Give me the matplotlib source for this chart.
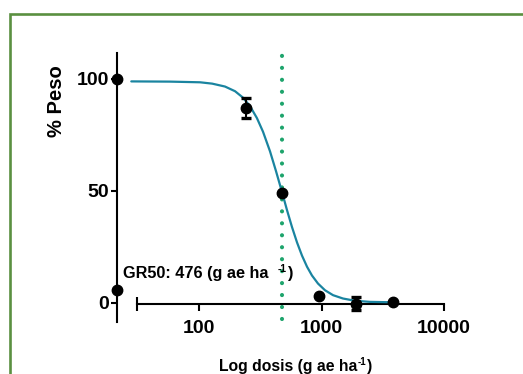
import numpy as np
import matplotlib
matplotlib.use("Agg")
import matplotlib.pyplot as plt
from matplotlib.patches import Rectangle
from matplotlib.transforms import blended_transform_factory

plt.rcParams['font.family'] = ['Liberation Sans', 'DejaVu Sans']
plt.rcParams['font.weight'] = 'bold'

# ---- data ----
control_pct = [100.0, 5.5]                 # untreated (dose 0) points on the y axis
dose = [240, 480, 960, 1920, 3840]         # g ae ha-1
pct = [87.0, 49.0, 3.1, -0.5, 0.3]         # % peso
pct_err = [4.5, 0.0, 0.0, 2.9, 0.0]

curve_dose = [28, 58, 102, 128, 163, 197, 229, 261, 297, 333, 380, 425, 476,
              523, 574, 631, 693, 762, 836, 936, 1068, 1242, 1498, 1877, 2488, 3908]
curve_pct = [98.9, 98.8, 98.5, 97.9, 96.6, 94.5, 91.6, 87.8, 82.5, 76.4, 67.6,
             58.8, 49.4, 41.3, 33.8, 26.9, 21.0, 16.0, 12.1, 8.5, 5.5, 3.3,
             1.8, 0.8, 0.3, 0.1]

gr50 = 476
x_ticks = [100, 1000, 10000]
x_tick_labels = ["100", "1000", "10000"]
y_ticks = [0, 50, 100]
y_tick_labels = ["0", "50", "100"]
x_axis_start = 31
x_axis_end = 10000

W, H = 523, 374
fig = plt.figure(figsize=(W / 100, H / 100), dpi=100)

# green frame
fig.patches.append(Rectangle((9.7 / W, -0.1), 1.2, 1 - 13.8 / H + 0.1,
                             transform=fig.transFigure, fill=False,
                             edgecolor='#5a9040', linewidth=1.9))

ax = fig.add_axes([117 / W, 52 / H, 338 / W, 269 / H])
ax.set_xscale('log')
ax.set_xlim(21.4, 12300)
ax.set_ylim(-8.7, 111.6)

teal = '#1a84a0'
green = '#1ea46c'

# fitted curve
ax.plot(curve_dose, curve_pct, color=teal, lw=1.6, solid_joinstyle='round',
        solid_capstyle='round', zorder=3)

# GR50 dotted line
ax.axvline(gr50, ymin=0.01, ymax=0.997, color=green, lw=3.0,
           linestyle=(0, (0.01, 2.86)), dash_capstyle='round', zorder=2)

# data points
ax.errorbar(dose, pct, yerr=pct_err, fmt='o', color='black', ms=7.5,
            elinewidth=1.5, capsize=3.5, capthick=2.4, zorder=4, clip_on=False)

# control points on the y axis
trans = blended_transform_factory(ax.transAxes, ax.transData)
ax.plot([0] * len(control_pct), control_pct, 'o', color='black', ms=7.5,
        transform=trans, clip_on=False, zorder=5)

# spines
for s in ['top', 'right']:
    ax.spines[s].set_visible(False)
ax.spines['left'].set_linewidth(1.5)
ax.spines['bottom'].set_linewidth(1.5)
ax.spines['bottom'].set_position(('data', -0.8))
ax.spines['bottom'].set_bounds(x_axis_start, x_axis_end)

ax.set_yticks(y_ticks)
ax.set_yticklabels(y_tick_labels)
ax.set_xticks(x_ticks)
ax.set_xticklabels(x_tick_labels)
ax.set_xticks([x_axis_start, x_axis_end], minor=True)
ax.xaxis.set_minor_formatter(plt.NullFormatter())

ax.tick_params(axis='y', direction='out', length=4, width=1.5, pad=2,
               labelsize=14)
ax.tick_params(axis='x', which='major', direction='out', length=5, width=1.5,
               pad=6.5, labelsize=14)
ax.tick_params(axis='x', which='minor', direction='inout', length=10,
               width=1.5)
for lab in ax.get_xticklabels() + ax.get_yticklabels():
    lab.set_fontweight('bold')

# axis labels
fig.text(57 / W, 1 - 101 / H, "% Peso", rotation=90, ha='center', va='center',
         fontsize=14.5, fontweight='bold')


def text_with_sup(x_px, base_px, main, sup, tail, size, sup_gap_px=0):
    """Place 'main' + superscript 'sup' + 'tail' starting at pixel x, baseline y."""
    t1 = fig.text(x_px / W, 1 - base_px / H, main, ha='left', va='baseline',
                  fontsize=size, fontweight='bold')
    fig.canvas.draw()
    r = fig.canvas.get_renderer()
    bb = t1.get_window_extent(r)
    x2 = bb.x1 + sup_gap_px
    t2 = fig.text(x2 / W, 1 - (base_px - size * 0.5) / H, sup, ha='left',
                  va='baseline', fontsize=size * 0.62, fontweight='bold')
    fig.canvas.draw()
    bb2 = t2.get_window_extent(r)
    fig.text((bb2.x1 + 0.5) / W, 1 - base_px / H, tail, ha='left',
             va='baseline', fontsize=size, fontweight='bold')


# x label (centred like the reference, baseline near bottom edge)
text_with_sup(219, 371, "Log dosis (g ae ha", "-1", ")", 11.3)

# GR50 annotation
text_with_sup(123, 278, "GR50: 476 (g ae ha", "-1", ")", 11.7, sup_gap_px=9)

fig.savefig('out.png', dpi=100)
